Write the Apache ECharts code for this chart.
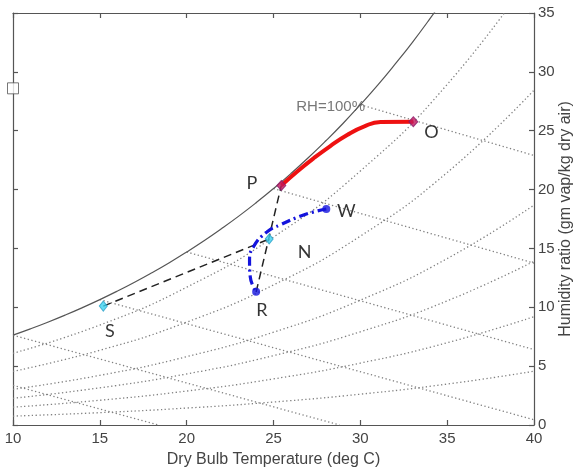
<!DOCTYPE html>
<html><head><meta charset="utf-8">
<script src="https://cdn.jsdelivr.net/npm/echarts/dist/echarts.min.js"></script>
<style>html,body{margin:0;padding:0;background:#fff}#c{width:576px;height:470px}</style>
</head><body><div id="c"></div>
<script>
// x ticks / y ticks
const xTicks = [10, 15, 20, 25, 30, 35, 40];
const yTicks = [0, 5, 10, 15, 20, 25, 30, 35];

// Saturation curve (RH = 100%), g vap / kg dry air
const satT = [10, 11, 12, 13, 14, 15, 16, 17, 18, 19, 20, 21, 22, 23, 24, 25, 26, 27, 28, 29, 30, 31, 32, 33, 34, 35];
const satW = [7.632, 8.165, 8.732, 9.334, 9.973, 10.650, 11.369, 12.129, 12.938, 13.791, 14.699, 15.655, 16.673, 17.745, 18.884, 20.087, 21.358, 22.701, 24.122, 25.616, 27.209, 28.877, 30.655, 32.514, 34.499, 36.587];

// Relative humidity curves (dotted)
const rhT = [10, 15, 20, 25, 30, 35, 40];
const rh10 = [0.755, 1.049, 1.439, 1.952, 2.618, 3.475, 4.567];
const rh20 = [1.512, 2.101, 2.885, 3.916, 5.258, 6.989, 9.201];
const rh30 = [2.270, 3.157, 4.338, 5.893, 7.920, 10.542, 13.904];
const rh40 = [3.031, 4.217, 5.805, 7.882, 10.605, 14.136, 18.678];
const rh60 = [4.557, 6.347, 8.737, 11.898, 16.045, 21.448, 28.444];
const rh80 = [6.091, 8.491, 11.704, 15.966, 21.579, 28.929, 38.512];

// Constant wet-bulb lines (dotted): start and end points
const wbStartT = [10, 10, 15, 20, 25, 30];
const wbStartW = [3.370, 7.632, 10.650, 14.699, 20.087, 27.209];
const wbEndT = [18.37, 28.80, 40, 40, 40, 40];
const wbEndW = [0, 0, 0.443, 6.405, 13.752, 22.896];

// Process P -> O (red)
const redT = [25.45, 26.35, 27.31, 28.27, 29.24, 30.2, 31.16, 33.05];
const redW = [20.35, 21.52, 22.66, 23.70, 24.64, 25.35, 25.74, 25.77];

// Process W -> R (blue dash-dot)
const blueT = [28.04, 26.73, 25.39, 24.62, 23.85, 23.62, 23.66, 24.0];
const blueW = [18.35, 17.84, 17.0, 16.4, 15.15, 14.0, 12.6, 11.33];

// Mixing lines (black dashed)
const mixST = [15.2, 24.75];
const mixSW = [10.1, 15.8];
const mixRT = [24.0, 25.45];
const mixRW = [11.3, 20.35];

// State points
const redPtT = [25.45, 33.05];
const redPtW = [20.35, 25.77];
const cyanPtT = [15.2, 24.75];
const cyanPtW = [10.1, 15.8];
const bluePtT = [28.04, 24.0];
const bluePtW = [18.35, 11.33];

// Text labels
const labNames = ['P', 'O', 'W', 'N', 'R', 'S'];
const labT = [23.76, 34.1, 29.2, 26.79, 24.33, 15.58];
const labW = [20.53, 24.9, 18.18, 14.72, 9.77, 7.93];
const rhLabel = 'RH=100%';
const rhLabelT = [26.31];
const rhLabelW = [27.05];

// stray square marker on left edge
const boxT = [10];
const boxW = [28.6];

const pairs = (xs, ys) => xs.map((x, i) => [x, ys[i]]);
const dotStyle = { color: '#808080', width: 1.3, type: [1.3, 2.5] };

const series = [];
series.push({ type: 'line', data: pairs(satT, satW), smooth: true, showSymbol: false, symbol: 'none',
  lineStyle: { color: '#555', width: 1.2 }, z: 3 });
[rh10, rh20, rh30, rh40, rh60, rh80].forEach(arr => {
  series.push({ type: 'line', data: pairs(rhT, arr), smooth: true, symbol: 'none', lineStyle: dotStyle, z: 2 });
});
wbStartT.forEach((t, i) => {
  series.push({ type: 'line', data: [[t, wbStartW[i]], [wbEndT[i], wbEndW[i]]], symbol: 'none', lineStyle: dotStyle, z: 2 });
});
series.push({ type: 'line', data: pairs(mixST, mixSW), symbol: 'none',
  lineStyle: { color: '#222', width: 1.5, type: [8, 5] }, z: 4 });
series.push({ type: 'line', data: pairs(mixRT, mixRW), symbol: 'none',
  lineStyle: { color: '#222', width: 1.5, type: [8, 5] }, z: 4 });
series.push({ type: 'line', data: pairs(redT, redW), smooth: true, symbol: 'none',
  lineStyle: { color: '#ee1111', width: 4 }, z: 5 });
series.push({ type: 'line', data: pairs(blueT, blueW), smooth: true, symbol: 'none',
  lineStyle: { color: '#1414dd', width: 3.2, type: [9, 4, 2, 4] }, z: 5 });
series.push({ type: 'scatter', data: pairs(redPtT, redPtW), symbol: 'diamond', symbolSize: [9, 10],
  itemStyle: { color: '#c2185b', borderColor: '#8b1a6b', borderWidth: 1 }, z: 6 });
series.push({ type: 'scatter', data: pairs(cyanPtT, cyanPtW), symbol: 'diamond', symbolSize: [8, 10],
  itemStyle: { color: '#3cd2f0', borderColor: '#2aa0c8', borderWidth: 1 }, z: 6 });
series.push({ type: 'scatter', data: pairs(bluePtT, bluePtW), symbol: 'circle', symbolSize: 8,
  itemStyle: { color: '#1414dd' }, z: 6 });
series.push({ type: 'scatter', data: labNames.map((n, i) => ({ name: n, value: [labT[i], labW[i]] })),
  symbolSize: 0, z: 7,
  label: { show: true, position: 'inside', formatter: '{b}', color: '#000', fontSize: 18,
    fontFamily: 'Lato, sans-serif' } });
series.push({ type: 'scatter', data: [{ name: rhLabel, value: [rhLabelT[0], rhLabelW[0]] }],
  symbolSize: 0, z: 7,
  label: { show: true, position: 'right', distance: 0, formatter: '{b}', color: '#555', fontSize: 15,
    fontFamily: 'Liberation Sans, Arial, sans-serif' } });
series.push({ type: 'scatter', data: pairs(boxT, boxW), symbol: 'rect', symbolSize: 11, clip: false,
  itemStyle: { color: '#fff', borderColor: '#555', borderWidth: 1 }, z: 8 });

const axisCommon = {
  type: 'value', splitLine: { show: false },
  axisLine: { show: true, onZero: false, lineStyle: { color: '#555', width: 1.2 } },
  axisTick: { show: true, inside: true, length: 5, lineStyle: { color: '#555', width: 1.2 } }
};
const lblFont = { color: '#444', fontSize: 15, fontFamily: 'Liberation Sans, Arial, sans-serif' };

const option = {
  animation: false,
  backgroundColor: '#fff',
  grid: { left: 13, right: 42, top: 13, bottom: 45, containLabel: false, outerBoundsMode: 'none' },
  xAxis: [
    Object.assign({}, axisCommon, { position: 'bottom', min: xTicks[0], max: xTicks[xTicks.length - 1], interval: 5,
      axisLabel: Object.assign({ margin: 6 }, lblFont),
      name: 'Dry Bulb Temperature (deg C)', nameLocation: 'middle', nameGap: 27,
      nameTextStyle: { color: '#444', fontSize: 16, fontFamily: 'Liberation Sans, Arial, sans-serif' } }),
    Object.assign({}, axisCommon, { position: 'top', min: xTicks[0], max: xTicks[xTicks.length - 1], interval: 5,
      axisLabel: { show: false } })
  ],
  yAxis: [
    Object.assign({}, axisCommon, { position: 'right', min: yTicks[0], max: yTicks[yTicks.length - 1], interval: 5,
      axisLabel: Object.assign({ margin: 4 }, lblFont),
      name: 'Humidity ratio (gm vap/kg dry air)', nameLocation: 'middle', nameGap: 32, nameRotate: 90,
      nameMoveOverlap: false,
      nameTextStyle: { color: '#444', fontSize: 16, fontFamily: 'Liberation Sans, Arial, sans-serif',
        verticalAlign: 'middle' } }),
    Object.assign({}, axisCommon, { position: 'left', min: yTicks[0], max: yTicks[yTicks.length - 1], interval: 5,
      axisLabel: { show: false } })
  ],
  series: series
};
const chart = echarts.init(document.getElementById('c'), null, { renderer: 'canvas' });
chart.setOption(option);
</script></body></html>
